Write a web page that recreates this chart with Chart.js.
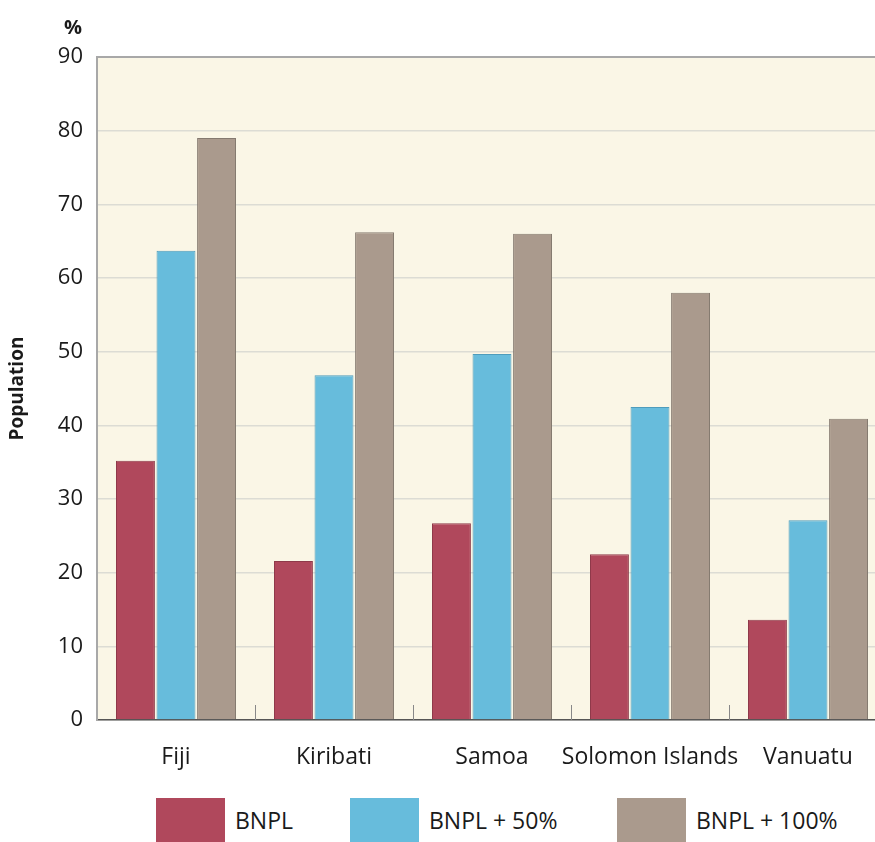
<!DOCTYPE html>
<html>
<head>
<meta charset="utf-8">
<script src="https://cdn.jsdelivr.net/npm/chart.js@4"></script>
<style>
  html, body { margin: 0; padding: 0; background: #fff; overflow: hidden; }
  body { width: 875px; height: 842px; position: relative; font-family: "Open Sans", sans-serif; }
  #wrap { position: absolute; left: 0; top: 0; width: 900px; height: 780px; }
  #pct { position: absolute; left: 64px; top: 13px; font-weight: bold; font-size: 20px; color: #1a1a1a; }
  .leg { position: absolute; top: 798px; height: 44px; display: flex; align-items: center; font-size: 23px; color: #1a1a1a; }
  .leg span.box { display: inline-block; width: 69px; height: 44px; margin-right: 10px; }
</style>
</head>
<body>
<div id="wrap"><canvas id="chart"></canvas></div>
<div id="pct">%</div>
<div class="leg" style="left:156px"><span class="box" style="background:#b0485c"></span>BNPL</div>
<div class="leg" style="left:350px"><span class="box" style="background:#67bcdc"></span>BNPL + 50%</div>
<div class="leg" style="left:617px"><span class="box" style="background:#aa9a8d"></span>BNPL + 100%</div>
<script>
const countries = ["Fiji", "Kiribati", "Samoa", "Solomon Islands", "Vanuatu"];
const bnpl = [35.2, 21.6, 26.7, 22.5, 13.6];
const bnpl50 = [63.7, 46.8, 49.7, 42.5, 27.1];
const bnpl100 = [79.0, 66.2, 66.0, 58.0, 40.9];
const yTicks = [0, 10, 20, 30, 40, 50, 60, 70, 80, 90];

const ctx = document.querySelector('#chart').getContext('2d');

// cream plot background + small inner ticks between categories
const plotBits = {
    id: 'plotBits',
    beforeDraw(c) {
        const a = c.chartArea;
        c.ctx.save();
        c.ctx.fillStyle = '#faf6e6';
        c.ctx.fillRect(a.left, a.top, a.right - a.left, a.bottom - a.top);
        c.ctx.restore();
    },
    afterDatasetsDraw(c) {
        const x = c.scales.x, a = c.chartArea, g = c.ctx;
        g.save();
        g.strokeStyle = '#888';
        g.lineWidth = 1;
        for (let i = 1; i < countries.length; i++) {
            const px = Math.round((x.getPixelForValue(i - 1) + x.getPixelForValue(i)) / 2) + 0.5;
            g.beginPath();
            g.moveTo(px, a.bottom - 15);
            g.lineTo(px, a.bottom);
            g.stroke();
        }
        g.restore();
    }
};

Chart.defaults.font.family = '"Open Sans", sans-serif';
Chart.defaults.color = '#1a1a1a';

new Chart(ctx, {
    type: 'bar',
    data: {
        labels: countries,
        datasets: [
            { label: 'BNPL', data: bnpl, backgroundColor: '#b0485c', borderColor: '#8e3a4a', borderWidth: 1 },
            { label: 'BNPL + 50%', data: bnpl50, backgroundColor: '#67bcdc', borderColor: '#4e9cbc', borderWidth: 1 },
            { label: 'BNPL + 100%', data: bnpl100, backgroundColor: '#aa9a8d', borderColor: '#857a70', borderWidth: 1 }
        ]
    },
    options: {
        responsive: true,
        maintainAspectRatio: false,
        animation: false,
        categoryPercentage: 0.77,
        barPercentage: 0.96,
        layout: { padding: { top: 57, right: 13, left: 0, bottom: 0 } },
        plugins: {
            legend: { display: false },
            tooltip: { enabled: false }
        },
        scales: {
            x: {
                offset: true,
                grid: { display: false },
                border: { color: '#555', width: 1.5 },
                ticks: { font: { size: 23 }, padding: 16, maxRotation: 0, autoSkip: false },
                afterFit(s) { s.height = 60; }
            },
            y: {
                min: 0,
                max: 90,
                afterBuildTicks(s) { s.ticks = yTicks.map(v => ({ value: v })); },
                grid: {
                    drawTicks: false,
                    color: (c) => c.tick && c.tick.value === 90 ? '#a8a8a8' : '#dcdcd4',
                    lineWidth: (c) => c.tick && c.tick.value === 90 ? 2 : 1.5
                },
                border: { color: '#a8a8a8', width: 2 },
                ticks: { font: { size: 22 }, padding: 14 },
                title: {
                    display: true,
                    text: 'Population',
                    font: { size: 19, weight: 'bold' },
                    padding: { top: 6, bottom: 0 }
                },
                afterFit(s) { s.width = 97; }
            }
        }
    },
    plugins: [plotBits]
});
</script>
</body>
</html>
